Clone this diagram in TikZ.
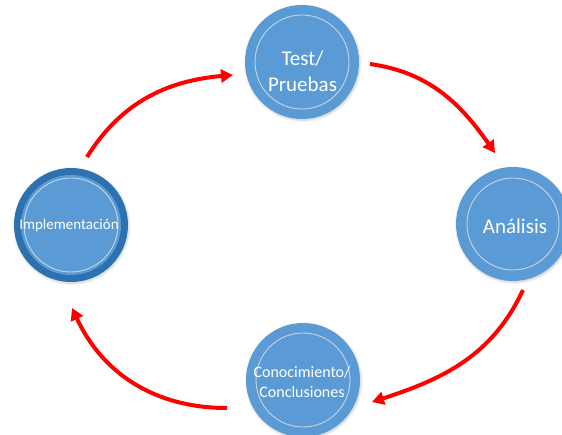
\documentclass[tikz,border=0pt]{standalone}
\usepackage{fontspec}
\setmainfont{Carlito}
\usetikzlibrary{arrows.meta,shadows.blur}
\definecolor{stageblue}{RGB}{91,155,213}
\definecolor{stagedark}{RGB}{46,113,176}
\definecolor{ringline}{RGB}{200,212,226}
\definecolor{flowred}{RGB}{255,0,0}
\begin{document}
\begin{tikzpicture}[x=1pt,y=-1pt,
  stage/.style={circle, fill=stageblue, draw=none, inner sep=0pt,
    minimum size=#1,
    blur shadow={shadow blur steps=6, shadow xshift=0.8pt, shadow yshift=-1.2pt,
      shadow opacity=22, shadow blur radius=2.5pt}},
  stage/.default=114pt,
  ringstyle/.style={draw=ringline, line width=0.9pt},
  lbl/.style={text=white, align=center, inner sep=0pt},
  big/.style={lbl, font=\fontsize{21}{26}\selectfont},
  small/.style={lbl, font=\fontsize{16}{20}\selectfont},
  tiny/.style={lbl, font=\fontsize{15}{18}\selectfont},
  flow/.style={draw=flowred, line width=4pt,
    -{Triangle[length=12pt,width=13pt]}}]

\useasboundingbox (0,0) rectangle (562,435);

% stage circles
\node[stage] (test) at (302,62) {};
\node[stage] (analisis) at (513,224) {};
\node[stage] (conoc) at (303,380) {};
\node[circle, fill=stagedark, inner sep=0pt, minimum size=114pt,
  blur shadow={shadow blur steps=6, shadow xshift=0.8pt, shadow yshift=-1.2pt,
    shadow opacity=22, shadow blur radius=2.5pt}] (impl) at (71,225) {};
\node[circle, fill=stageblue, inner sep=0pt, minimum size=100pt] (implcore) at (impl.center) {};

% thin inner rings
\draw[ringstyle] (test.center) circle (47pt);
\draw[ringstyle] (analisis.center) circle (46pt);
\draw[ringstyle] (conoc.center) circle (47pt);
\draw[ringstyle] (impl.center) circle (47pt);

% stage labels
\node[big] (testtxt) at (302.5,71) {Test/\\Pruebas};
\node[big] (analisistxt) at (515,226) {Análisis};
\node[small] (conoctxt) at (302,382) {Conocimiento/\\Conclusiones};
\node[tiny] (impltxt) at (69,226) {Implementación};

% cycle arrows
\coordinate (a1s) at (87,157);  \coordinate (a1e) at (233,75);
\coordinate (a2s) at (370,64);  \coordinate (a2e) at (495,153);
\coordinate (a3s) at (523,290); \coordinate (a3e) at (372,402);
\coordinate (a4s) at (227,408); \coordinate (a4e) at (72,308);

\draw[flow] (a1s) to[out=58, in=185] (a1e);
\draw[flow] (a2s) to[out=-8, in=125] (a2e);
\draw[flow] (a3s) to[out=-115, in=18] (a3e);
\draw[flow] (a4s) to[out=180, in=-65] (a4e);
\end{tikzpicture}
\end{document}
